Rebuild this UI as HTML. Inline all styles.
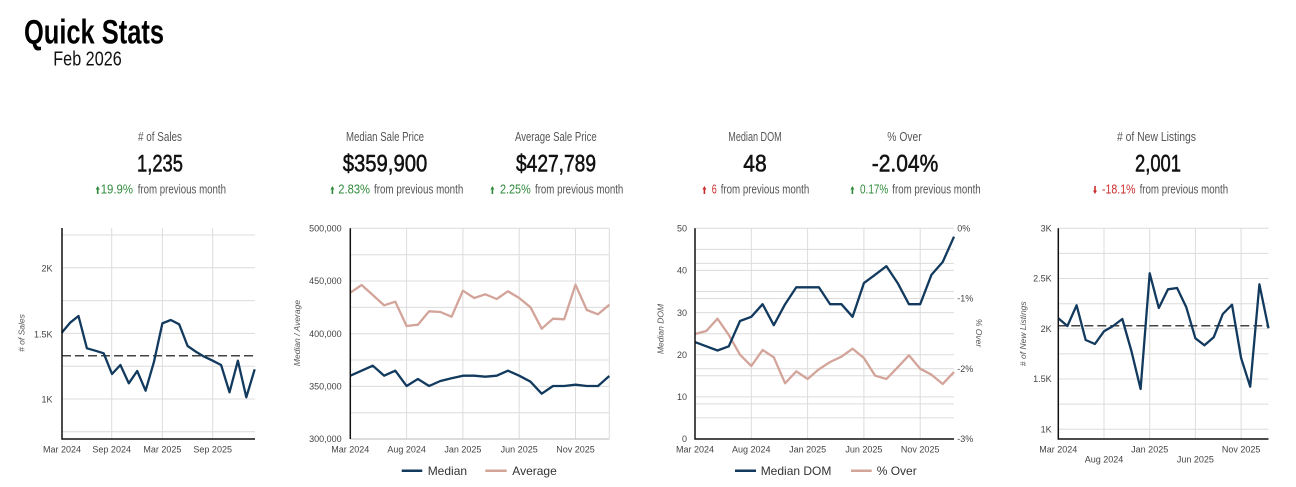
<!DOCTYPE html>
<html>
<head>
<meta charset="utf-8">
<style>
html,body{margin:0;padding:0;background:#fff;}
body{width:1296px;height:487px;overflow:hidden;}
svg{display:block;}
.os{font-family:"Liberation Sans Narrow","Liberation Sans",sans-serif;}
.lbl{font-size:12.8px;fill:#555;}
.val{font-size:24.5px;fill:#111;stroke:#111;stroke-width:0.55;}
.chg{font-size:12.8px;fill:#555;}
.g{fill:#2f8a3a;}
.r{fill:#cc2b2b;}
.tk{font-family:"Liberation Sans",sans-serif;font-size:9px;fill:#444;}
.at{font-family:"Liberation Sans",sans-serif;font-size:8.5px;font-style:italic;fill:#555;}
.lg{font-family:"Liberation Sans",sans-serif;font-size:12px;fill:#333;}
.grid{stroke:#dcdcdc;stroke-width:1;fill:none;}
.ax{stroke:#111;stroke-width:1.5;fill:none;}
.s1{stroke:#123a5e;stroke-width:2.3;fill:none;stroke-linejoin:round;}
.s2{stroke:#d3a49a;stroke-width:2.3;fill:none;stroke-linejoin:round;}
.dash{stroke:#444;stroke-width:1.5;stroke-dasharray:9,4;fill:none;}
</style>
</head>
<body>
<svg width="1296" height="487" viewBox="0 0 1296 487" xmlns="http://www.w3.org/2000/svg">
<!-- Title -->
<text class="os" x="24" y="43.3" font-size="34" font-weight="bold" fill="#000" textLength="140" lengthAdjust="spacingAndGlyphs">Quick Stats</text>
<text class="os" x="53.3" y="65.7" font-size="20.5" fill="#111" textLength="68.4" lengthAdjust="spacingAndGlyphs">Feb 2026</text>

<!-- Stats: # of Sales -->
<text class="os lbl" x="138" y="141" textLength="44" lengthAdjust="spacingAndGlyphs"># of Sales</text>
<text class="os val" x="137" y="171.7" textLength="46" lengthAdjust="spacingAndGlyphs">1,235</text>
<polygon class="g" points="97.7,186 99.7,189.5 98.5,189.5 98.5,194 96.9,194 96.9,189.5 95.7,189.5"/>
<text class="os chg g" x="100.7" y="193.3" textLength="32.3" lengthAdjust="spacingAndGlyphs">19.9%</text>
<text class="os chg" x="137.7" y="193.3" textLength="88.3" lengthAdjust="spacingAndGlyphs">from previous month</text>

<!-- Median Sale Price -->
<text class="os lbl" x="346" y="141" textLength="78" lengthAdjust="spacingAndGlyphs">Median Sale Price</text>
<text class="os val" x="342.7" y="171.7" textLength="84.6" lengthAdjust="spacingAndGlyphs">$359,900</text>
<polygon class="g" points="332.4,186 334.4,189.5 333.2,189.5 333.2,194 331.6,194 331.6,189.5 330.4,189.5"/>
<text class="os chg g" x="338.3" y="193.3" textLength="31.7" lengthAdjust="spacingAndGlyphs">2.83%</text>
<text class="os chg" x="374" y="193.3" textLength="89.3" lengthAdjust="spacingAndGlyphs">from previous month</text>

<!-- Average Sale Price -->
<text class="os lbl" x="515" y="141" textLength="81.7" lengthAdjust="spacingAndGlyphs">Average Sale Price</text>
<text class="os val" x="516" y="171.7" textLength="80" lengthAdjust="spacingAndGlyphs">$427,789</text>
<polygon class="g" points="492.4,186 494.4,189.5 493.2,189.5 493.2,194 491.6,194 491.6,189.5 490.4,189.5"/>
<text class="os chg g" x="500" y="193.3" textLength="30.7" lengthAdjust="spacingAndGlyphs">2.25%</text>
<text class="os chg" x="535" y="193.3" textLength="88.3" lengthAdjust="spacingAndGlyphs">from previous month</text>

<!-- Median DOM -->
<text class="os lbl" x="728.3" y="141" textLength="53.4" lengthAdjust="spacingAndGlyphs">Median DOM</text>
<text class="os val" x="743.3" y="171.7" textLength="23.4" lengthAdjust="spacingAndGlyphs">48</text>
<polygon class="r" points="704.4,186 706.4,189.5 705.2,189.5 705.2,194 703.6,194 703.6,189.5 702.4,189.5"/>
<text class="os chg r" x="711.7" y="193.3" textLength="5" lengthAdjust="spacingAndGlyphs">6</text>
<text class="os chg" x="720.7" y="193.3" textLength="88.6" lengthAdjust="spacingAndGlyphs">from previous month</text>

<!-- % Over -->
<text class="os lbl" x="887.3" y="141" textLength="34.4" lengthAdjust="spacingAndGlyphs">% Over</text>
<text class="os val" x="871.7" y="171.7" textLength="66.6" lengthAdjust="spacingAndGlyphs">-2.04%</text>
<polygon class="g" points="852.4,186 854.4,189.5 853.2,189.5 853.2,194 851.6,194 851.6,189.5 850.4,189.5"/>
<text class="os chg g" x="860" y="193.3" textLength="28.3" lengthAdjust="spacingAndGlyphs">0.17%</text>
<text class="os chg" x="892.3" y="193.3" textLength="88.4" lengthAdjust="spacingAndGlyphs">from previous month</text>

<!-- # of New Listings -->
<text class="os lbl" x="1117" y="141" textLength="79" lengthAdjust="spacingAndGlyphs"># of New Listings</text>
<text class="os val" x="1135" y="171.7" textLength="46" lengthAdjust="spacingAndGlyphs">2,001</text>
<polygon class="r" points="1095,194 1097,190.5 1095.8,190.5 1095.8,186 1094.2,186 1094.2,190.5 1093,190.5"/>
<text class="os chg r" x="1102" y="193.3" textLength="33.5" lengthAdjust="spacingAndGlyphs">-18.1%</text>
<text class="os chg" x="1139.6" y="193.3" textLength="88.5" lengthAdjust="spacingAndGlyphs">from previous month</text>

<!-- ================= Chart 1: # of Sales ================= -->
<g class="grid">
<line x1="62" y1="235" x2="255" y2="235"/>
<line x1="62" y1="267.8" x2="255" y2="267.8"/>
<line x1="62" y1="300.6" x2="255" y2="300.6"/>
<line x1="62" y1="333.4" x2="255" y2="333.4"/>
<line x1="62" y1="366.2" x2="255" y2="366.2"/>
<line x1="62" y1="399" x2="255" y2="399"/>
<line x1="62" y1="431.8" x2="255" y2="431.8"/>
<line x1="111.7" y1="228" x2="111.7" y2="439"/>
<line x1="162.4" y1="228" x2="162.4" y2="439"/>
<line x1="212.7" y1="228" x2="212.7" y2="439"/>
</g>
<line class="dash" x1="62" y1="355.7" x2="255" y2="355.7"/>
<polyline class="s1" points="61.7,332.7 70.1,322.7 78.5,316 86.9,348.3 95.3,350.7 103.7,353.3 112,374 120.4,365 128.8,383.3 137.2,371 145.6,390.7 154,361.7 162.4,323.3 170.8,320 179.2,324.3 187.6,346 195.9,351.7 204.3,356.7 212.7,360.7 221.1,365 229.5,392.3 237.9,360.7 246.3,397.3 254.7,369.3"/>
<polyline class="ax" points="62,228 62,439 255,439"/>
<g class="tk" text-anchor="end">
<text x="52.5" y="271.3">2K</text>
<text x="52.5" y="337.4">1.5K</text>
<text x="52.5" y="402.3">1K</text>
</g>
<g class="tk" text-anchor="middle">
<text x="62" y="452.5">Mar 2024</text>
<text x="111.7" y="452.5">Sep 2024</text>
<text x="162.4" y="452.5">Mar 2025</text>
<text x="212.7" y="452.5">Sep 2025</text>
</g>
<text class="at" x="22" y="333" text-anchor="middle" dominant-baseline="middle" transform="rotate(-90 22 333)"># of Sales</text>

<!-- ================= Chart 2: Median / Average ================= -->
<g class="grid">
<line x1="350.3" y1="254.7" x2="609.3" y2="254.7"/>
<line x1="350.3" y1="281" x2="609.3" y2="281"/>
<line x1="350.3" y1="307.4" x2="609.3" y2="307.4"/>
<line x1="350.3" y1="333.7" x2="609.3" y2="333.7"/>
<line x1="350.3" y1="360" x2="609.3" y2="360"/>
<line x1="350.3" y1="386.4" x2="609.3" y2="386.4"/>
<line x1="350.3" y1="412.7" x2="609.3" y2="412.7"/>
<line x1="350.3" y1="228.3" x2="609.3" y2="228.3"/>
<line x1="406.6" y1="228.3" x2="406.6" y2="439"/>
<line x1="462.9" y1="228.3" x2="462.9" y2="439"/>
<line x1="519.2" y1="228.3" x2="519.2" y2="439"/>
<line x1="575.5" y1="228.3" x2="575.5" y2="439"/>
<line x1="609.3" y1="228.3" x2="609.3" y2="439"/>
</g>
<line x1="350.3" y1="439" x2="609.3" y2="439" stroke="#c8c8c8" stroke-width="1.2"/>
<polyline class="s2" points="350.3,292.7 361.6,285 372.8,295 384.1,305.3 395.3,301.7 406.6,326 417.9,324.7 429.1,311.3 440.4,312 451.6,316.7 462.9,290.7 474.2,298 485.4,294.3 496.7,299 507.9,291.3 519.2,298 530.5,307.3 541.7,328.7 553,318.7 564.2,319.3 575.5,284.7 586.8,310 598,314.3 609.3,304.7"/>
<polyline class="s1" points="350.3,375.7 361.6,370.7 372.8,365.7 384.1,375.7 395.3,370.7 406.6,386 417.9,379 429.1,386 440.4,381 451.6,378.3 462.9,375.7 474.2,375.7 485.4,376.7 496.7,375.7 507.9,370.7 519.2,375.7 530.5,381.7 541.7,393.7 553,386 564.2,386 575.5,384.7 586.8,386 598,386 609.3,376"/>
<line class="ax" x1="350.3" y1="228.3" x2="350.3" y2="439"/>
<g class="tk" text-anchor="end">
<text x="341.7" y="231.5">500,000</text>
<text x="341.7" y="284.2">450,000</text>
<text x="341.7" y="336.9">400,000</text>
<text x="341.7" y="389.6">350,000</text>
<text x="341.7" y="442.2">300,000</text>
</g>
<g class="tk" text-anchor="middle">
<text x="350.3" y="452.5">Mar 2024</text>
<text x="406.6" y="452.5">Aug 2024</text>
<text x="462.9" y="452.5">Jan 2025</text>
<text x="519.2" y="452.5">Jun 2025</text>
<text x="575.5" y="452.5">Nov 2025</text>
</g>
<text class="at" x="297.7" y="333" text-anchor="middle" dominant-baseline="middle" transform="rotate(-90 297.7 333)">Median / Average</text>
<line x1="401.7" y1="470.7" x2="422.3" y2="470.7" stroke="#123a5e" stroke-width="2.5"/>
<text class="lg" x="427.7" y="475">Median</text>
<line x1="485.3" y1="470.7" x2="506.7" y2="470.7" stroke="#d3a49a" stroke-width="2.5"/>
<text class="lg" x="512.3" y="475">Average</text>

<!-- ================= Chart 3: Median DOM / % Over ================= -->
<g class="grid">
<line x1="695" y1="228.3" x2="954" y2="228.3"/>
<line x1="695" y1="249.4" x2="954" y2="249.4"/>
<line x1="695" y1="263.4" x2="954" y2="263.4"/>
<line x1="695" y1="270.4" x2="954" y2="270.4"/>
<line x1="695" y1="291.5" x2="954" y2="291.5"/>
<line x1="695" y1="298.5" x2="954" y2="298.5"/>
<line x1="695" y1="312.6" x2="954" y2="312.6"/>
<line x1="695" y1="333.7" x2="954" y2="333.7"/>
<line x1="695" y1="354.7" x2="954" y2="354.7"/>
<line x1="695" y1="368.8" x2="954" y2="368.8"/>
<line x1="695" y1="375.8" x2="954" y2="375.8"/>
<line x1="695" y1="396.9" x2="954" y2="396.9"/>
<line x1="695" y1="403.9" x2="954" y2="403.9"/>
<line x1="695" y1="417.9" x2="954" y2="417.9"/>
<line x1="751.3" y1="228.3" x2="751.3" y2="439"/>
<line x1="807.6" y1="228.3" x2="807.6" y2="439"/>
<line x1="863.9" y1="228.3" x2="863.9" y2="439"/>
<line x1="920.2" y1="228.3" x2="920.2" y2="439"/>
</g>
<polyline class="s2" points="695,334 706.3,331 717.5,318.7 728.8,335 740,354.7 751.3,366 762.6,350 773.8,357.3 785.1,383.3 796.3,371.3 807.6,379 818.9,369.3 830.1,362 841.4,356.7 852.6,348.7 863.9,358 875.2,375.7 886.4,379 897.7,367.3 908.9,355.3 920.2,368.7 931.5,374.7 942.7,384 954,372"/>
<polyline class="s1" points="695,342.1 706.3,346.3 717.5,350.5 728.8,346.3 740,321 751.3,316.8 762.6,304.2 773.8,325.2 785.1,304.2 796.3,287.3 807.6,287.3 818.9,287.3 830.1,304.2 841.4,304.2 852.6,316.8 863.9,283.1 875.2,274.7 886.4,266.2 897.7,283.1 908.9,304.2 920.2,304.2 931.5,274.7 942.7,262 954,236.7"/>
<polyline class="ax" points="695,228.3 695,439 954,439"/>
<g class="tk" text-anchor="end">
<text x="687" y="231.5">50</text>
<text x="687" y="273.6">40</text>
<text x="687" y="315.8">30</text>
<text x="687" y="357.9">20</text>
<text x="687" y="400.1">10</text>
<text x="687" y="442.2">0</text>
</g>
<g class="tk" text-anchor="start">
<text x="957.3" y="231.5">0%</text>
<text x="957.3" y="301.7">-1%</text>
<text x="957.3" y="372">-2%</text>
<text x="957.3" y="442.2">-3%</text>
</g>
<g class="tk" text-anchor="middle">
<text x="695" y="452.5">Mar 2024</text>
<text x="751.3" y="452.5">Aug 2024</text>
<text x="807.6" y="452.5">Jan 2025</text>
<text x="863.9" y="452.5">Jun 2025</text>
<text x="920.2" y="452.5">Nov 2025</text>
</g>
<text class="at" x="661" y="329" text-anchor="middle" dominant-baseline="middle" transform="rotate(-90 661 329)">Median DOM</text>
<text class="at" x="978" y="333" text-anchor="middle" dominant-baseline="middle" transform="rotate(90 978 333)">% Over</text>
<line x1="735" y1="470.7" x2="756" y2="470.7" stroke="#123a5e" stroke-width="2.5"/>
<text class="lg" x="760.7" y="475">Median DOM</text>
<line x1="851" y1="470.7" x2="871.7" y2="470.7" stroke="#d3a49a" stroke-width="2.5"/>
<text class="lg" x="876.7" y="475">% Over</text>

<!-- ================= Chart 4: # of New Listings ================= -->
<g class="grid">
<line x1="1058.3" y1="228.3" x2="1268.5" y2="228.3"/>
<line x1="1058.3" y1="253.4" x2="1268.5" y2="253.4"/>
<line x1="1058.3" y1="278.5" x2="1268.5" y2="278.5"/>
<line x1="1058.3" y1="303.7" x2="1268.5" y2="303.7"/>
<line x1="1058.3" y1="328.8" x2="1268.5" y2="328.8"/>
<line x1="1058.3" y1="353.9" x2="1268.5" y2="353.9"/>
<line x1="1058.3" y1="379" x2="1268.5" y2="379"/>
<line x1="1058.3" y1="404.1" x2="1268.5" y2="404.1"/>
<line x1="1058.3" y1="429.3" x2="1268.5" y2="429.3"/>
<line x1="1104" y1="228.3" x2="1104" y2="439"/>
<line x1="1149.7" y1="228.3" x2="1149.7" y2="439"/>
<line x1="1195.4" y1="228.3" x2="1195.4" y2="439"/>
<line x1="1241.1" y1="228.3" x2="1241.1" y2="439"/>
</g>
<line class="dash" x1="1058.3" y1="325.7" x2="1268.5" y2="325.7"/>
<polyline class="s1" points="1058.3,318.3 1067.4,326 1076.6,305.3 1085.7,340 1094.9,344 1104,331.3 1113.1,326 1122.3,319 1131.4,351 1140.6,389 1149.7,273.3 1158.8,308 1168,289.3 1177.1,288 1186.3,307.3 1195.4,338.3 1204.5,345.3 1213.7,337.3 1222.8,314 1232,304.7 1241.1,358 1250.2,386.7 1259.4,284.3 1268.5,328.3"/>
<polyline class="ax" points="1058.3,228.3 1058.3,439 1268.5,439"/>
<g class="tk" text-anchor="end">
<text x="1051.7" y="231.5">3K</text>
<text x="1051.7" y="281.7">2.5K</text>
<text x="1051.7" y="332">2K</text>
<text x="1051.7" y="382.2">1.5K</text>
<text x="1051.7" y="432.5">1K</text>
</g>
<g class="tk" text-anchor="middle">
<text x="1058.3" y="452.5">Mar 2024</text>
<text x="1104" y="462.5">Aug 2024</text>
<text x="1149.7" y="452.5">Jan 2025</text>
<text x="1195.4" y="462.5">Jun 2025</text>
<text x="1241.1" y="452.5">Nov 2025</text>
</g>
<text class="at" x="1024" y="333.7" text-anchor="middle" dominant-baseline="middle" transform="rotate(-90 1024 333.7)"># of New Listings</text>
</svg>
</body>
</html>
